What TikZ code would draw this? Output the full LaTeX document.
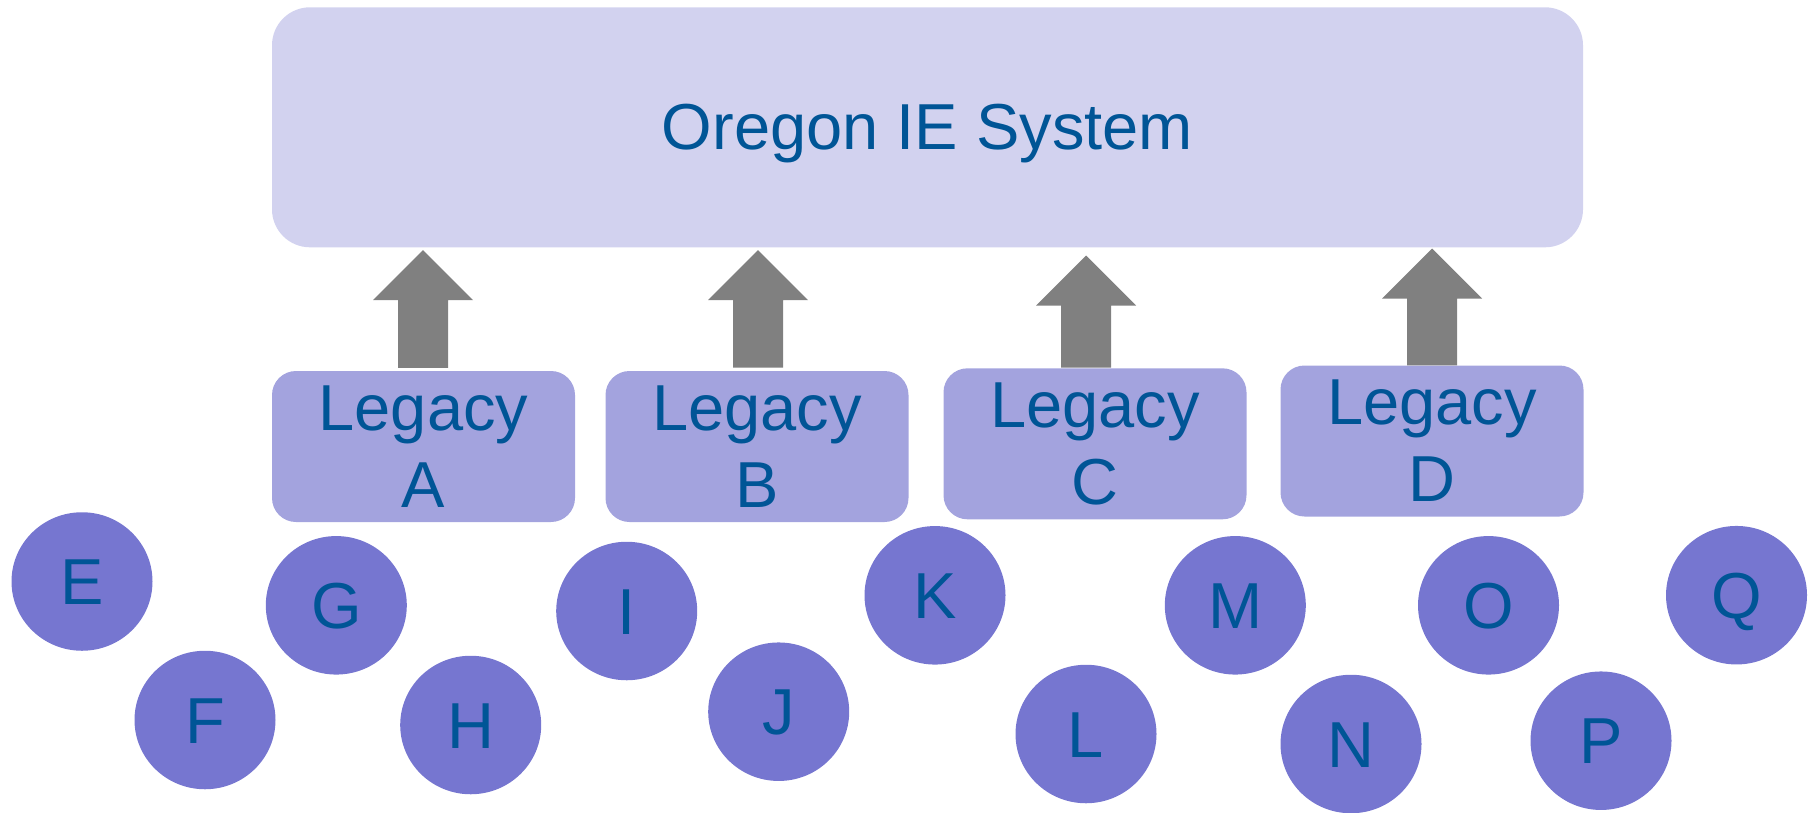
\documentclass[tikz,border=0pt]{standalone}
\usepackage{fontspec}
\setmainfont{Liberation Sans}
\usetikzlibrary{shapes.geometric,calc}
\definecolor{sysfill}{RGB}{210,210,239}
\definecolor{legfill}{RGB}{163,163,222}
\definecolor{circfill}{RGB}{118,118,208}
\definecolor{txtblue}{RGB}{0,85,150}
\definecolor{arrgray}{RGB}{128,128,128}
% #1 from node, #2 to node, #3 x shift, #4 gap at tip, #5 gap at base
\newcommand\legacyarrow[5]{%
  \fill[arrgray] let \p1=(#1.north), \p2=(#2.south) in
    (\x1+#3-25pt,\y1+#5) -- (\x1+#3-25pt,\y2-#4-50pt) -- (\x1+#3-50pt,\y2-#4-50pt)
    -- (\x1+#3,\y2-#4) -- (\x1+#3+50pt,\y2-#4-50pt) -- (\x1+#3+25pt,\y2-#4-50pt)
    -- (\x1+#3+25pt,\y1+#5) -- cycle;}
\begin{document}
\begin{tikzpicture}[x=1pt,y=-1pt,
  bigfont/.style={font=\fontsize{65}{77}\selectfont},
  sysbox/.style={rectangle, rounded corners=38pt, fill=sysfill, minimum width=1311pt,
    minimum height=240pt, inner sep=0pt, text=txtblue, bigfont, text depth=0pt},
  legbox/.style={rectangle, rounded corners=24pt, fill=legfill, minimum width=303pt,
    minimum height=151pt, inner sep=0pt, align=center, text=txtblue, bigfont},
  circ/.style={ellipse, fill=circfill, minimum width=141pt, minimum height=138.5pt,
    inner sep=0pt, text=txtblue, bigfont, text height=46.5pt, text depth=0pt}]
\useasboundingbox (0,0) rectangle (1814,812);

\node[sysbox] (SYS) at (927.5,127.3) {Oregon IE System};

\node[legbox] (LA) at (423.5,446.5) {Legacy\\A};
\node[legbox] (LB) at (757,446.5) {Legacy\\B};
\node[legbox] (LC) at (1095,443.8) {Legacy\\C};
\node[legbox] (LD) at (1432,441) {Legacy\\D};

\legacyarrow{LA}{SYS}{-0.5pt}{2.7pt}{3pt}
\legacyarrow{LB}{SYS}{1pt}{2.7pt}{3.3pt}
\legacyarrow{LC}{SYS}{-8.8pt}{8pt}{0.6pt}
\legacyarrow{LD}{SYS}{0pt}{1pt}{0pt}

\node[circ] (E) at (82,581.5) {E};
\node[circ] (F) at (205,720) {F};
\node[circ] (G) at (336.3,605.3) {G};
\node[circ] (H) at (470.7,725) {H};
\node[circ] (I) at (626.7,611) {I};
\node[circ] (J) at (778.7,711.7) {J};
\node[circ] (K) at (935,595.3) {K};
\node[circ] (L) at (1086,734) {L};
\node[circ] (M) at (1235.3,605.3) {M};
\node[circ] (N) at (1351,744) {N};
\node[circ] (O) at (1488.5,605.3) {O};
\node[circ] (P) at (1601,740.7) {P};
\node[circ] (Q) at (1736.5,595.2) {Q};
\end{tikzpicture}
\end{document}
